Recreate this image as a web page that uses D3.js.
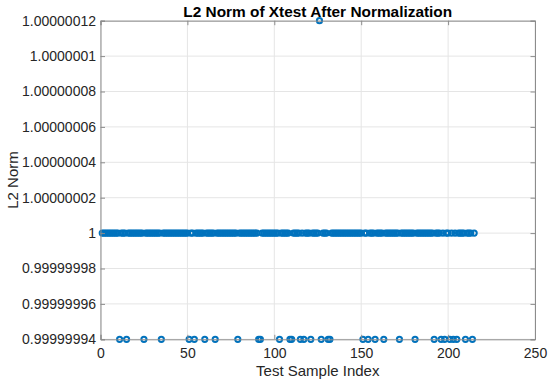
<!DOCTYPE html>
<html>
<head>
<meta charset="utf-8">
<script src="https://cdn.jsdelivr.net/npm/d3@7"></script>
<style>
  html, body { margin: 0; padding: 0; background: #fff; }
  svg { display: block; font-family: "Liberation Sans", Arial, Helvetica, sans-serif; }
</style>
</head>
<body>
<svg id="chart" width="550" height="384"></svg>
<script>
// ---- data ----
const L = 0.99999994, H = 1.00000012;
const normValues = [
  1,1,1,1,1,1,1,1,1,1,
  L,1,1,1,L,1,1,1,1,1,
  1,1,1,1,L,1,1,1,1,1,
  1,1,1,1,L,1,1,1,1,1,
  1,1,1,1,1,1,1,1,1,1,
  L,1,1,L,1,1,1,1,1,L,
  1,1,1,1,1,L,1,1,1,1,
  1,1,1,1,1,1,1,1,L,1,
  1,1,1,1,1,1,1,1,1,1,
  L,L,1,1,1,1,1,1,1,1,
  1,1,L,1,1,1,1,1,L,L,
  1,1,1,1,L,1,L,1,1,1,
  L,1,1,1,1,H,L,1,1,1,
  L,L,1,1,1,1,1,1,1,1,
  1,1,1,1,1,1,1,1,1,1,
  L,1,1,L,1,1,1,L,1,1,
  1,1,L,1,1,1,1,1,1,1,
  1,L,1,1,1,1,1,1,1,1,
  L,1,1,1,1,1,1,1,1,1,
  1,L,1,1,1,L,1,L,1,1,
  L,1,L,1,L,1,1,1,1,L,
  1,1,1,L,1
];
const xTicks = [0, 50, 100, 150, 200, 250];
const yTickValues = [0.99999994, 0.99999996, 0.99999998, 1, 1.00000002, 1.00000004, 1.00000006, 1.00000008, 1.0000001, 1.00000012];
const yTickLabels = ["0.99999994", "0.99999996", "0.99999998", "1", "1.00000002", "1.00000004", "1.00000006", "1.00000008", "1.0000001", "1.00000012"];
const titleText = "L2 Norm of Xtest After Normalization";
const xLabelText = "Test Sample Index";
const yLabelText = "L2 Norm";

// ---- layout ----
const pLeft = 100.5, pRight = 535, pTop = 20.7, pBottom = 339.3;
const svg = d3.select("#chart");

const x = d3.scaleLinear().domain([0, 250]).range([pLeft, pRight]);
const y = d3.scaleLinear().domain([0.99999994, 1.00000012]).range([pBottom, pTop]);

const gridColor = "#e5e5e5", axisColor = "#8c8c8c", textColor = "#262626";

// grid
svg.append("g").selectAll("line").data(xTicks).join("line")
  .attr("x1", d => x(d)).attr("x2", d => x(d))
  .attr("y1", pTop).attr("y2", pBottom)
  .attr("stroke", gridColor).attr("stroke-width", 1);
svg.append("g").selectAll("line").data(yTickValues).join("line")
  .attr("x1", pLeft).attr("x2", pRight)
  .attr("y1", d => y(d)).attr("y2", d => y(d))
  .attr("stroke", gridColor).attr("stroke-width", 1);

// axes (ticks inside)
const tickLen = 4.5;
const xAxisB = d3.axisBottom(x).tickValues(xTicks).tickSize(-tickLen).tickPadding(8.5).tickFormat(d3.format("d"));
const xAxisT = d3.axisTop(x).tickValues(xTicks).tickSize(-tickLen).tickFormat("");
const yAxisL = d3.axisLeft(y).tickValues(yTickValues).tickSize(-tickLen).tickPadding(4.5)
  .tickFormat((d, i) => yTickLabels[i]);
const yAxisR = d3.axisRight(y).tickValues(yTickValues).tickSize(-tickLen).tickFormat("");

function style(g) {
  g.selectAll("path").attr("stroke", axisColor).attr("stroke-width", 1);
  g.selectAll("line").attr("stroke", axisColor).attr("stroke-width", 1);
  g.selectAll("text").attr("fill", textColor).style("font-size", "14px")
    .style("font-family", "'Liberation Sans', Arial, Helvetica, sans-serif");
}

// points
svg.append("g").selectAll("circle").data(normValues).join("circle")
  .attr("cx", (d, i) => x(i + 1))
  .attr("cy", d => y(d))
  .attr("r", 2.6)
  .attr("fill", "none")
  .attr("stroke", "#0072BD")
  .attr("stroke-width", 2.0);

svg.append("g").attr("transform", `translate(0,${pBottom})`).call(xAxisB).call(style);
svg.append("g").attr("transform", `translate(0,${pTop})`).call(xAxisT).call(style);
svg.append("g").attr("transform", `translate(${pLeft},0)`).call(yAxisL).call(style);
svg.append("g").attr("transform", `translate(${pRight},0)`).call(yAxisR).call(style);

// title and labels
svg.append("text").attr("x", (pLeft + pRight) / 2).attr("y", 17)
  .attr("text-anchor", "middle").attr("fill", "#000")
  .style("font-size", "15.4px").style("font-weight", "bold")
  .text(titleText);
svg.append("text").attr("x", (pLeft + pRight) / 2).attr("y", 376)
  .attr("text-anchor", "middle").attr("fill", textColor)
  .style("font-size", "15px")
  .text(xLabelText);
svg.append("text").attr("transform", `translate(18,${(pTop + pBottom) / 2}) rotate(-90)`)
  .attr("text-anchor", "middle").attr("fill", textColor)
  .style("font-size", "15px")
  .text(yLabelText);
</script>
</body>
</html>
